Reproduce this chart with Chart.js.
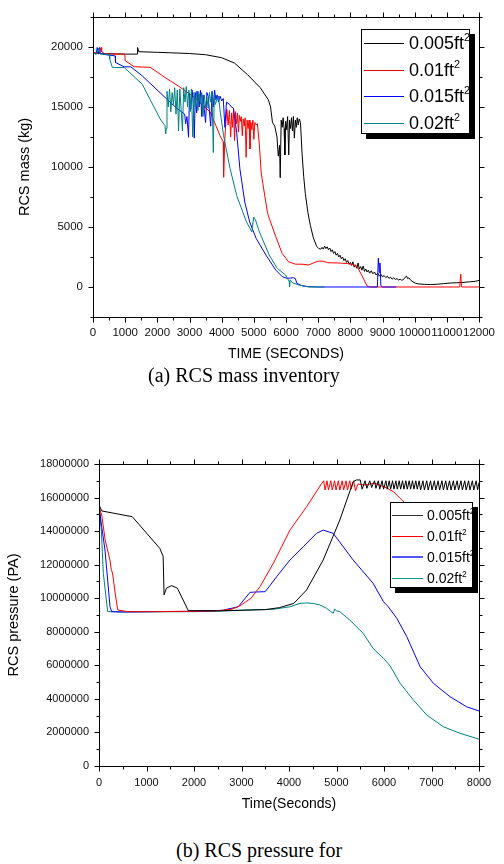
<!DOCTYPE html>
<html>
<head>
<meta charset="utf-8">
<script src="https://cdn.jsdelivr.net/npm/chart.js@4"></script>
<style>
  body { margin: 0; background: #fff; width: 504px; height: 864px; position: relative; overflow: hidden; font-family: Arial, "Liberation Sans", sans-serif; }
  canvas { position: absolute; left: 0; }
  #massChart { top: 0; }
  #pressChart { top: 420px; }
  .legend { position: absolute; background: #fff; border: 1px solid #000; box-shadow: 5px 5px 0 #000; box-sizing: border-box; }
  .legend .row { position: absolute; left: 0; display: flex; align-items: center; white-space: nowrap; color: #000; }
  .legend .row span.ln { display: inline-block; height: 0; border-top: 1px solid; }
  .legend sup { font-size: 0.6em; position: relative; top: -0.75em; vertical-align: baseline; line-height: 0; }
  #legA { left: 361px; top: 29px; width: 109px; height: 105px; }
  #legA .row { font-size: 18px; }
  #legA .ln { width: 40px; margin: 0 5px 0 2px; }
  #legB { left: 390px; top: 502px; width: 83px; height: 86px; }
  #legB .row { font-size: 14px; }
  #legB .ln { width: 31px; margin: 0 4px 0 1px; }
  .caption { position: absolute; font-family: "Liberation Serif", "Times New Roman", serif; font-size: 20px; color: #000; white-space: nowrap; }
</style>
</head>
<body>
<canvas id="massChart" width="504" height="370"></canvas>
<canvas id="pressChart" width="504" height="400"></canvas>

<div class="legend" id="legA">
  <div class="row" style="top:3px"><span class="ln" style="border-color:#000"></span><span>0.005ft<sup>2</sup></span></div>
  <div class="row" style="top:30px"><span class="ln" style="border-color:#ff0000"></span><span>0.01ft<sup>2</sup></span></div>
  <div class="row" style="top:56px"><span class="ln" style="border-color:#0000ff"></span><span>0.015ft<sup>2</sup></span></div>
  <div class="row" style="top:83px"><span class="ln" style="border-color:#008080"></span><span>0.02ft<sup>2</sup></span></div>
</div>
<div class="legend" id="legB">
  <div class="row" style="top:4px"><span class="ln" style="border-color:#333"></span><span>0.005ft<sup>2</sup></span></div>
  <div class="row" style="top:25px"><span class="ln" style="border-color:#ff0000"></span><span>0.01ft<sup>2</sup></span></div>
  <div class="row" style="top:46px"><span class="ln" style="border-color:#5555ff;border-top-width:2px"></span><span>0.015ft<sup>2</sup></span></div>
  <div class="row" style="top:67px"><span class="ln" style="border-color:#159a90"></span><span>0.02ft<sup>2</sup></span></div>
</div>

<div class="caption" style="left:148px; top:364px;">(a) RCS mass inventory</div>
<div class="caption" style="left:176px; top:839px;">(b) RCS pressure for</div>

<script>
// ---- (a) RCS mass inventory, kg vs seconds ----
const massTicksX = [0, 1000, 2000, 3000, 4000, 5000, 6000, 7000, 8000, 9000, 10000, 11000, 12000];
const massTicksY = [0, 5000, 10000, 15000, 20000];

const massT005 = [0, 300, 1000, 1370, 1385, 1420, 2000, 3000, 3500, 4000, 4400, 4800, 5200, 5450, 5520, 5580, 5650, 5720, 5760, 5800, 5820, 5850, 5880, 5910, 5940, 5965, 5990, 6020, 6050, 6085, 6110, 6140, 6170, 6200, 6230, 6260, 6290, 6320, 6350, 6380, 6410, 6450, 6500, 6550, 6600, 6680, 6760, 6850, 6950, 7020, 7080, 7120, 7160, 7200, 7240, 7280, 7320, 7360, 7400, 7440, 7480, 7520, 7560, 7600, 7640, 7680, 7720, 7760, 7800, 7840, 7880, 7920, 7960, 8000, 8040, 8080, 8120, 8160, 8200, 8240, 8280, 8320, 8360, 8400, 8440, 8480, 8520, 8560, 8600, 8650, 8700, 8750, 8800, 8850, 8900, 8950, 9000, 9050, 9100, 9150, 9200, 9250, 9300, 9350, 9400, 9450, 9500, 9550, 9600, 9650, 9700, 9750, 9780, 9820, 9880, 9950, 10020, 10100, 10300, 10500, 10700, 10900, 11100, 11300, 11500, 11700, 11900, 12000];
const mass005 = [19500, 19450, 19400, 19400, 19950, 19600, 19550, 19450, 19350, 19100, 18650, 17700, 16600, 15600, 15000, 13700, 13400, 12500, 10900, 11800, 9100, 13900, 13300, 14100, 13200, 11000, 13800, 13100, 14200, 11000, 13900, 13200, 14100, 13000, 14200, 12400, 13900, 13300, 14100, 13500, 14000, 13700, 11100, 9200, 7800, 6200, 5100, 4100, 3400, 3200, 3150, 3300, 3150, 3400, 3200, 3350, 3100, 3250, 2950, 3100, 2800, 2950, 2650, 2800, 2500, 2650, 2350, 2500, 2200, 2350, 2050, 2200, 1900, 2050, 1800, 2100, 1650, 1850, 1550, 2000, 1500, 1700, 1400, 1750, 1300, 1500, 1250, 1400, 1150, 1350, 1100, 1250, 1000, 1150, 900, 1050, 850, 950, 780, 900, 720, 820, 650, 780, 620, 700, 580, 650, 560, 620, 800, 900, 700, 760, 550, 420, 320, 260, 220, 200, 230, 280, 330, 350, 380, 430, 480, 550];

const massT01 = [0, 200, 250, 270, 350, 600, 990, 1000, 1280, 1780, 2240, 2650, 3150, 3650, 3950, 4050, 4060, 4100, 4160, 4200, 4240, 4280, 4310, 4340, 4370, 4400, 4430, 4460, 4490, 4520, 4550, 4580, 4610, 4640, 4670, 4700, 4730, 4760, 4790, 4820, 4850, 4880, 4910, 4940, 4970, 5000, 5030, 5070, 5110, 5170, 5230, 5280, 5430, 5680, 5880, 6080, 6290, 6500, 6700, 6850, 7000, 7150, 7300, 7600, 7900, 8100, 8210, 8350, 8520, 8600, 11400, 11430, 11460, 12000];
const mass01 = [19500, 19500, 19950, 19600, 19450, 19400, 19400, 18850, 18350, 18300, 17450, 16750, 15800, 14550, 12600, 12100, 9150, 12500, 14800, 13500, 14700, 12500, 14500, 13300, 14800, 12200, 14600, 13600, 14500, 12900, 14300, 13800, 14200, 12600, 14000, 13400, 14100, 10800, 13900, 13200, 13900, 11500, 13700, 13100, 13900, 12300, 13700, 13500, 13600, 11900, 9500, 8600, 6100, 4200, 2800, 2100, 1900, 1900, 1830, 2000, 2150, 2150, 2020, 2000, 1960, 1850, 1700, 1000, 80, 0, 0, 1080, 0, 0];

const massT015 = [0, 100, 130, 170, 200, 230, 400, 690, 700, 970, 1175, 1530, 2240, 2600, 2850, 2880, 2920, 2970, 3000, 3040, 3080, 3120, 3150, 3180, 3220, 3260, 3300, 3340, 3380, 3420, 3460, 3500, 3540, 3580, 3620, 3660, 3700, 3740, 3780, 3820, 3860, 3900, 3950, 4000, 4050, 4100, 4150, 4200, 4250, 4300, 4365, 4465, 4566, 4718, 4870, 5073, 5377, 5680, 5884, 6036, 6150, 6237, 6290, 6339, 6500, 6700, 7000, 8840, 8870, 8900, 8920, 8950, 9000, 9430];
const mass015 = [19500, 19400, 19950, 19400, 19950, 19450, 19350, 19250, 18700, 18340, 18340, 17590, 15790, 14900, 14400, 13600, 14200, 12470, 16100, 14800, 16400, 15200, 12400, 16200, 14500, 16300, 15000, 16400, 14200, 16000, 14800, 13700, 16200, 15900, 14600, 13400, 16300, 15000, 16400, 15600, 16000, 15400, 15900, 15500, 15700, 13300, 15400, 15300, 15200, 15000, 14900, 12900, 9850, 7080, 5420, 4040, 2660, 1410, 860, 720, 750, 770, 700, 300, 100, 30, 0, 0, 2400, 1200, 2000, 100, 0, 0];

const massT02 = [0, 100, 180, 220, 500, 520, 600, 668, 972, 1529, 2087, 2238, 2260, 2280, 2300, 2340, 2380, 2420, 2460, 2500, 2540, 2580, 2620, 2660, 2700, 2740, 2780, 2820, 2860, 2900, 2940, 2980, 3020, 3060, 3100, 3140, 3180, 3220, 3260, 3300, 3340, 3380, 3420, 3460, 3500, 3540, 3580, 3620, 3660, 3700, 3740, 3770, 3800, 3850, 3900, 3960, 4060, 4263, 4465, 4770, 4940, 4993, 5050, 5174, 5478, 5730, 5985, 6100, 6110, 6130, 6200, 6390, 6700, 7200];
const mass02 = [19500, 19400, 19900, 19400, 19390, 19000, 18300, 18280, 18280, 16900, 14000, 13440, 12750, 13200, 16300, 15000, 16500, 14600, 16200, 15200, 16600, 14400, 16400, 13000, 16500, 14800, 13000, 16600, 15400, 16700, 15000, 16400, 14600, 16500, 12500, 16200, 15000, 16300, 14700, 16100, 15300, 16200, 14200, 16000, 15000, 15800, 14900, 16200, 15400, 16300, 11200, 16000, 15200, 15600, 15900, 14500, 12600, 9850, 7630, 5420, 4590, 5830, 5600, 4590, 2660, 1550, 1000, 450, 0, 600, 350, 170, 0, 0];

// ---- (b) RCS pressure, values in units of 1e6 Pa ----
const pressTicksX = [0, 1000, 2000, 3000, 4000, 5000, 6000, 7000, 8000];
const pressTicksY = [0, 2000000, 4000000, 6000000, 8000000, 10000000, 12000000, 14000000, 16000000, 18000000];

const pressT005 = [0, 60, 700, 1280, 1350, 1370, 1420, 1530, 1650, 1880, 2500, 3000, 3500, 3800, 4100, 4370, 4720, 5070, 5350, 5420, 5500, 5540, 5600, 5640, 5700, 5740, 5800, 5830, 5880, 5910, 5960, 5990, 6040, 6070, 6110, 6140, 6180, 6210, 6250, 6280, 6320, 6350, 6390, 6420, 6460, 6490, 6530, 6560, 6600, 6630, 6670, 6700, 6740, 6770, 6820, 6850, 6900, 6930, 6980, 7010, 7060, 7090, 7140, 7170, 7220, 7250, 7300, 7330, 7380, 7410, 7460, 7490, 7540, 7570, 7620, 7650, 7700, 7730, 7780, 7810, 7860, 7890, 7940, 7970, 8000];
const press005 = [15.55, 15.2, 14.86, 12.97, 12.5, 10.2, 10.6, 10.75, 10.6, 9.26, 9.25, 9.28, 9.32, 9.44, 9.69, 10.49, 12.28, 14.66, 16.94, 17.05, 17.05, 16.5, 17.0, 16.55, 17.0, 16.6, 17.0, 16.55, 17.0, 16.5, 17.0, 16.5, 17.0, 16.5, 17.0, 16.5, 17.0, 16.5, 17.0, 16.5, 17.0, 16.5, 17.0, 16.5, 17.0, 16.5, 17.0, 16.5, 17.0, 16.5, 17.0, 16.5, 17.0, 16.45, 17.0, 16.45, 17.0, 16.45, 17.0, 16.45, 17.0, 16.45, 17.0, 16.45, 17.0, 16.45, 17.0, 16.45, 17.0, 16.45, 17.0, 16.45, 17.0, 16.45, 17.0, 16.45, 17.0, 16.45, 17.0, 16.45, 17.0, 16.45, 17.0, 16.45, 16.9];

const pressT01 = [0, 60, 130, 230, 260, 285, 340, 395, 600, 1000, 2000, 2500, 2800, 2970, 3200, 3390, 3670, 4020, 4370, 4690, 4730, 4760, 4800, 4830, 4880, 4910, 4960, 4990, 5040, 5070, 5120, 5150, 5200, 5230, 5280, 5310, 5360, 5400, 5450, 5600, 5800, 6000, 6200, 6340, 6450, 6700, 7000];
const press01 = [15.5, 14.9, 13.47, 12.28, 11.7, 11.5, 10.3, 9.3, 9.2, 9.2, 9.22, 9.25, 9.35, 9.55, 10.0, 10.69, 12.08, 14.06, 15.45, 16.85, 17.0, 16.45, 17.0, 16.45, 17.0, 16.45, 17.0, 16.45, 17.0, 16.45, 17.0, 16.45, 17.0, 16.45, 17.0, 16.5, 17.0, 16.4, 16.8, 16.75, 16.85, 16.65, 16.35, 15.95, 15.65, 14.8, 13.6];

const pressT015 = [0, 60, 126, 232, 267, 500, 1000, 2000, 2600, 2930, 3180, 3300, 3500, 3740, 4020, 4300, 4580, 4720, 4930, 5350, 5770, 5990, 6090, 6270, 6480, 6760, 7040, 7390, 7740, 8000];
const press015 = [15.5, 14.2, 12.87, 9.49, 9.2, 9.18, 9.2, 9.22, 9.28, 9.49, 10.35, 10.37, 10.39, 11.28, 12.28, 13.07, 13.87, 14.06, 13.87, 12.28, 10.89, 9.79, 9.49, 8.8, 7.71, 5.92, 4.93, 4.13, 3.53, 3.28];

const pressT02 = [0, 50, 91, 183, 500, 1000, 2000, 2500, 3070, 3670, 4020, 4230, 4370, 4510, 4650, 4790, 4930, 4960, 5000, 5070, 5280, 5560, 5770, 5990, 6130, 6340, 6620, 6900, 7250, 7600, 8000];
const press02 = [15.5, 14.0, 11.48, 9.2, 9.18, 9.18, 9.2, 9.22, 9.3, 9.34, 9.49, 9.69, 9.72, 9.69, 9.6, 9.4, 9.1, 9.35, 9.25, 9.2, 8.7, 7.91, 7.01, 6.42, 5.96, 4.93, 3.93, 3.04, 2.34, 1.95, 1.6];

const pairs = (xs, ys, k = 1) => xs.map((x, i) => ({ x, y: ys[i] * k }));

// frame + outward minor/major ticks, positions from the chart scales
const framePlugin = {
  id: 'frame',
  afterDraw(chart, args, opts) {
    const { ctx, chartArea: a, scales } = chart;
    const line = (x1, y1, x2, y2) => { ctx.beginPath(); ctx.moveTo(x1, y1); ctx.lineTo(x2, y2); ctx.stroke(); };
    ctx.save();
    ctx.strokeStyle = '#000';
    ctx.lineWidth = 1;
    const L = Math.round(a.left) + 0.5, R = Math.round(a.right) + 0.5;
    const T = Math.round(a.top) + 0.5, B = Math.round(a.bottom) + 0.5;
    ctx.strokeRect(L, T, R - L, B - T);
    const xs = scales.x, ys = scales.y;
    for (let v = xs.min; v <= xs.max + 1e-6; v += opts.xMinor) {
      const p = Math.round(xs.getPixelForValue(v)) + 0.5;
      const len = Math.abs(v % opts.xMajor) < 1e-6 ? 5 : 3;
      line(p, B, p, B + len);
      line(p, T, p, T - len);
    }
    for (let v = ys.min; v <= ys.max + 1e-6; v += opts.yMinor) {
      const p = Math.round(ys.getPixelForValue(v)) + 0.5;
      const len = Math.abs(v % opts.yMajor) < 1e-6 ? 5 : 3;
      line(L, p, L - len, p);
      line(R, p, R + len, p);
    }
    ctx.restore();
  }
};

function lineSet(data, color, order) {
  return { data, borderColor: color, borderWidth: 1, pointRadius: 0, tension: 0, fill: false, order };
}

function axes(cfg) {
  return {
    x: {
      type: 'linear', min: cfg.xMin, max: cfg.xMax,
      grid: { display: false, drawTicks: false }, border: { display: false },
      afterBuildTicks: s => { s.ticks = cfg.xTicks.map(value => ({ value })); },
      afterFit: s => { s.height = cfg.xHeight; },
      ticks: { autoSkip: false, maxRotation: 0, padding: cfg.xPad, color: '#111', font: { family: 'Arial', size: cfg.tickSize },
        callback: v => String(v) },
      title: { display: true, text: cfg.xTitle, color: '#000', padding: { top: 0, bottom: cfg.xTitlePad }, font: { family: 'Arial', size: 14 } }
    },
    y: {
      type: 'linear', min: cfg.yMin, max: cfg.yMax,
      grid: { display: false, drawTicks: false }, border: { display: false },
      afterBuildTicks: s => { s.ticks = cfg.yTicks.map(value => ({ value })); },
      afterFit: s => { s.width = cfg.yWidth; },
      ticks: { padding: cfg.yPad, color: '#111', font: { family: 'Arial', size: cfg.tickSize },
        callback: v => String(v) },
      title: { display: true, text: cfg.yTitle, color: '#000', padding: { top: cfg.yTitlePad, bottom: 0 }, font: { family: 'Arial', size: 14.5 } }
    }
  };
}

new Chart(document.getElementById('massChart'), {
  type: 'line',
  data: {
    datasets: [
      lineSet(pairs(massT005, mass005), '#000000', 4),
      lineSet(pairs(massT01, mass01), '#ff0000', 3),
      lineSet(pairs(massT015, mass015), '#0000ff', 2),
      lineSet(pairs(massT02, mass02), '#008080', 1)
    ]
  },
  options: {
    responsive: false, animation: false,
    layout: { autoPadding: false, padding: { left: 0, right: 16, top: 15, bottom: 0 } },
    plugins: { legend: { display: false }, tooltip: { enabled: false },
      frame: { xMajor: 1000, xMinor: 500, yMajor: 5000, yMinor: 2500 } },
    scales: axes({
      xMin: 0, xMax: 12000, xTicks: massTicksX, xHeight: 53, xPad: 9, xTitle: 'TIME (SECONDS)', xTitlePad: 7,
      yMin: -2500, yMax: 22500, yTicks: massTicksY, yWidth: 93, yPad: 10, yTitle: 'RCS mass (kg)', yTitlePad: 16,
      tickSize: 11.5
    })
  },
  plugins: [framePlugin]
});

new Chart(document.getElementById('pressChart'), {
  type: 'line',
  data: {
    datasets: [
      lineSet(pairs(pressT005, press005, 1e6), '#000000', 1),
      lineSet(pairs(pressT01, press01, 1e6), '#ff0000', 2),
      lineSet(pairs(pressT015, press015, 1e6), '#0000ff', 3),
      lineSet(pairs(pressT02, press02, 1e6), '#008080', 4)
    ]
  },
  options: {
    responsive: false, animation: false,
    layout: { autoPadding: false, padding: { left: 0, right: 25, top: 44, bottom: 0 } },
    plugins: { legend: { display: false }, tooltip: { enabled: false },
      frame: { xMajor: 1000, xMinor: 500, yMajor: 2000000, yMinor: 1000000 } },
    scales: axes({
      xMin: 0, xMax: 8000, xTicks: pressTicksX, xHeight: 54, xPad: 10, xTitle: 'Time(Seconds)', xTitlePad: 7,
      yMin: 0, yMax: 18000000, yTicks: pressTicksY, yWidth: 99, yPad: 10, yTitle: 'RCS pressure (PA)', yTitlePad: 5,
      tickSize: 11
    })
  },
  plugins: [framePlugin]
});
</script>
</body>
</html>
